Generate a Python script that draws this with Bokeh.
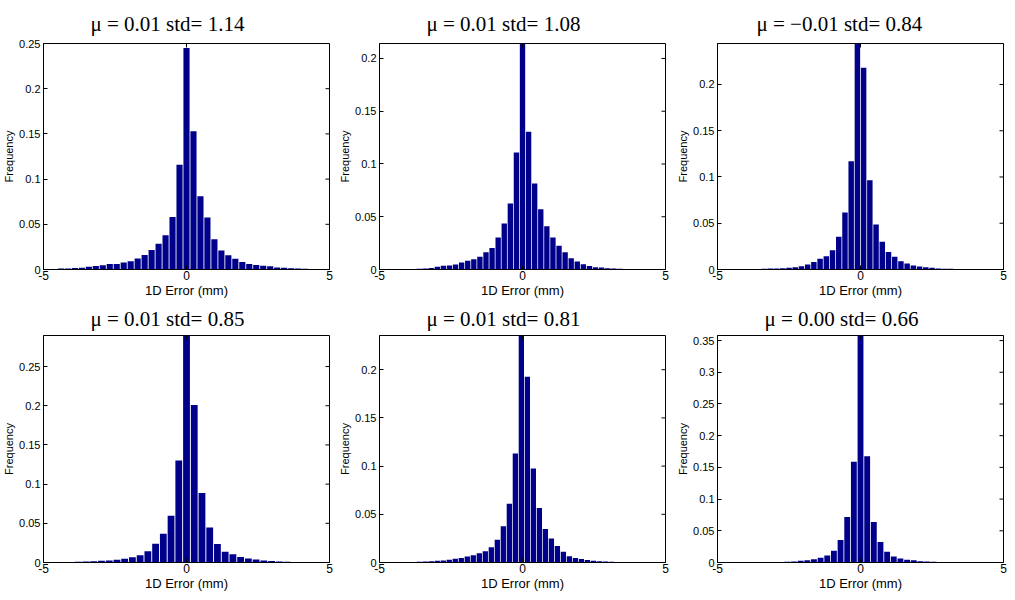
import math
from bokeh.plotting import figure
from bokeh.models import Range1d, FixedTicker, NumeralTickFormatter, ColumnDataSource
from bokeh.layouts import row, column
from bokeh.embed import file_html
from bokeh.resources import INLINE

titles = ["μ = 0.01 std= 1.14", "μ = 0.01 std= 1.08", "μ = −0.01 std= 0.84",
          "μ = 0.01 std= 0.85", "μ = 0.01 std= 0.81", "μ = 0.00 std= 0.66"]

# histogram bins: centre of the first bin and bin width (mm)
bin_first_center = [-4.878, -4.894, -4.891, -4.865, -4.87, -4.884]
bin_width = [0.2439, 0.2128, 0.2174, 0.2703, 0.21, 0.2326]

x_lim = [-5, 5]
y_top = [0.25, 0.2142, 0.2443, 0.2896, 0.2355, 0.358]
y_ticks = [[0, 0.05, 0.1, 0.15, 0.2, 0.25],
           [0, 0.05, 0.1, 0.15, 0.2],
           [0, 0.05, 0.1, 0.15, 0.2],
           [0, 0.05, 0.1, 0.15, 0.2, 0.25],
           [0, 0.05, 0.1, 0.15, 0.2],
           [0, 0.05, 0.1, 0.15, 0.2, 0.25, 0.3, 0.35]]
x_ticks = [-5, 0, 5]

freq_1 = [0.0004, 0.0006, 0.001, 0.0012, 0.0016, 0.002, 0.003, 0.004, 0.0048, 0.006,
          0.0062, 0.0078, 0.0092, 0.0122, 0.016, 0.0215, 0.0285, 0.038, 0.058, 0.116,
          0.245,
          0.153, 0.081, 0.0575, 0.0335, 0.021, 0.0158, 0.012, 0.0082, 0.0062, 0.005,
          0.0042, 0.0035, 0.0022, 0.0018, 0.0013, 0.001, 0.0007, 0.0005, 0.0003, 0.0002]
freq_2 = [0.0, 0.0001, 0.0001, 0.0002, 0.0003, 0.0004, 0.0006, 0.001, 0.0015, 0.0025,
          0.0035, 0.0038, 0.0047, 0.0066, 0.0082, 0.0098, 0.012, 0.0164, 0.0204, 0.0303,
          0.0436, 0.0626, 0.111,
          0.216,
          0.1305, 0.0815, 0.057, 0.041, 0.0304, 0.0224, 0.0164, 0.0107, 0.0076, 0.005,
          0.0032, 0.0022, 0.0019, 0.0013, 0.001, 0.0007, 0.0005, 0.0003, 0.0002, 0.0001,
          0.0001, 0.0, 0.0]
freq_3 = [0.0, 0.0001, 0.0001, 0.0002, 0.0003, 0.0005, 0.0006, 0.0008, 0.001, 0.0011,
          0.0014, 0.0018, 0.0024, 0.0034, 0.0055, 0.0082, 0.0117, 0.0143, 0.0207, 0.0355,
          0.0615, 0.117,
          0.246,
          0.218, 0.0966, 0.0486, 0.030, 0.019, 0.0137, 0.009, 0.0065, 0.0043, 0.0032,
          0.0025, 0.0018, 0.0012, 0.0009, 0.0007, 0.0005, 0.0004, 0.0003, 0.0002, 0.0001,
          0.0001, 0.0, 0.0]
freq_4 = [0.0002, 0.0003, 0.0004, 0.0006, 0.0009, 0.0013, 0.0017, 0.0021, 0.0026, 0.0034,
          0.0047, 0.0066, 0.0094, 0.0145, 0.0238, 0.0368, 0.0596, 0.13,
          0.292,
          0.201, 0.0888, 0.0447, 0.0236, 0.0138, 0.0104, 0.007, 0.0051, 0.0037, 0.0026,
          0.0018, 0.0013, 0.0009, 0.0005, 0.0003, 0.0002, 0.0001, 0.0]
freq_5 = [0.0, 0.0001, 0.0001, 0.0002, 0.0003, 0.0004, 0.0007, 0.001, 0.0014, 0.0017,
          0.0021, 0.0028, 0.0038, 0.0047, 0.0061, 0.0075, 0.0097, 0.0116, 0.0158, 0.0235,
          0.0377, 0.0609, 0.113,
          0.238,
          0.1927, 0.0974, 0.0565, 0.0348, 0.0248, 0.0172, 0.0112, 0.0066, 0.0047, 0.0037,
          0.0027, 0.0017, 0.0014, 0.001, 0.0007, 0.0005, 0.0003, 0.0002, 0.0001, 0.0001,
          0.0001, 0.0, 0.0]
freq_6 = [0.0, 0.0, 0.0, 0.0, 0.0, 0.0001, 0.0002, 0.0003, 0.0005, 0.0008,
          0.0011, 0.0016, 0.0027, 0.0037, 0.0053, 0.0074, 0.0112, 0.0186, 0.0356, 0.0718,
          0.159,
          0.36,
          0.1676, 0.0638, 0.0324, 0.017, 0.0096, 0.0064, 0.0043, 0.0037, 0.0021, 0.0016,
          0.001, 0.0006, 0.0003, 0.0002, 0.0001, 0.0, 0.0, 0.0, 0.0, 0.0, 0.0]

freqs = [freq_1, freq_2, freq_3, freq_4, freq_5, freq_6]

BAR = "#00008B"
SANS = "Liberation Sans"
SERIF = "Liberation Serif"

left_b = [39, 37, 37]
right_b = [7, 9, 5]
title_offset = [47, 47, 39, 47, 47, 47]


def make(i):
    r, c = divmod(i, 3)
    f = freqs[i]
    centers = [bin_first_center[i] + k * bin_width[i] for k in range(len(f))]
    src = ColumnDataSource(dict(x=centers, y=f))
    p = figure(frame_width=286, frame_height=226 if r == 0 else 227,
               x_range=Range1d(*x_lim), y_range=Range1d(0, y_top[i]),
               output_backend="svg", toolbar_location=None,
               min_border_left=left_b[c], min_border_right=right_b[c],
               min_border_top=43 if r == 0 else 33, min_border_bottom=26)
    p.vbar(x="x", top="y", bottom=0, width=bin_width[i] * 0.88, source=src,
           fill_color=BAR, line_color=None)

    # inward ticks on the right and top edges of the box
    p.ray(x=[x_lim[1]] * len(y_ticks[i]), y=y_ticks[i], angle=math.pi, length=4,
          length_units="screen", line_color="black", line_width=1)
    p.ray(x=x_ticks, y=[y_top[i]] * len(x_ticks), angle=-math.pi / 2, length=4,
          length_units="screen", line_color="black", line_width=1)

    p.title.text = titles[i]
    p.title.text_font = SERIF
    p.title.text_font_size = "21px"
    p.title.text_font_style = "normal"
    p.title.align = "left"
    p.title.offset = title_offset[i]
    p.title.text_color = "black"
    p.title.standoff = 16 if r == 0 else 9
    p.grid.visible = False
    p.outline_line_color = "black"
    p.outline_line_width = 1
    p.outline_line_alpha = 1
    p.background_fill_color = "white"
    p.border_fill_color = "white"

    xa = p.xaxis[0]
    ya = p.yaxis[0]
    xa.ticker = FixedTicker(ticks=x_ticks)
    ya.ticker = FixedTicker(ticks=y_ticks[i])
    xa.formatter = NumeralTickFormatter(format="0")
    ya.formatter = NumeralTickFormatter(format="0.[00]")
    xa.axis_label = "1D Error (mm)"
    ya.axis_label = "Frequency"
    for ax in (xa, ya):
        ax.major_label_text_font = SANS
        ax.major_label_text_color = "black"
        ax.axis_label_text_font = SANS
        ax.axis_label_text_font_style = "normal"
        ax.axis_label_text_color = "black"
        ax.major_tick_in = 4
        ax.major_tick_out = 0
        ax.minor_tick_line_color = None
        ax.axis_line_color = "black"
        ax.major_tick_line_color = "black"
    xa.major_label_text_font_size = "12px"
    xa.axis_label_text_font_size = "13px"
    ya.major_label_text_font_size = "11px"
    ya.axis_label_text_font_size = "11px"
    xa.major_label_standoff = 1
    xa.axis_label_standoff = 0
    ya.major_label_standoff = 3
    ya.axis_label_standoff = 1
    return p


plots = [make(i) for i in range(6)]
layout = column(row(*plots[:3]), row(*plots[3:]))

open("out.html", "w").write(file_html(layout, INLINE))
